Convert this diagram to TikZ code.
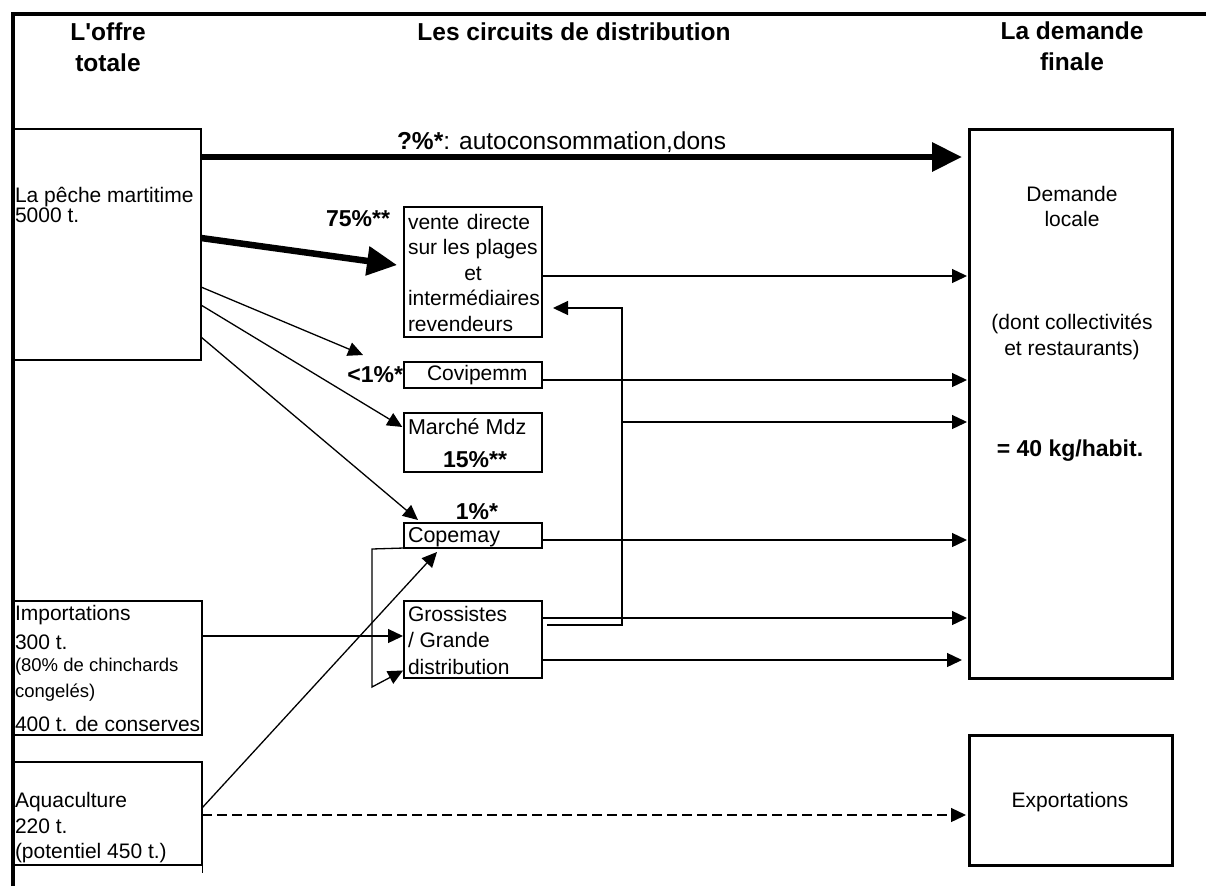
\documentclass[tikz,border=0pt]{standalone}
\usepackage{fontspec}
\setmainfont{Liberation Sans}
\usetikzlibrary{arrows.meta}
\begin{document}
\begin{tikzpicture}[x=1pt,y=-1pt,
  every node/.style={inner sep=0pt, outer sep=0pt},
  lbox/.style={draw, line width=2.2pt, anchor=north west},
  mbox/.style={draw, line width=2.6pt, anchor=north west},
  rbox/.style={draw, line width=3pt, anchor=north west},
  hdr/.style={font=\fontsize{24.5}{31}\selectfont\bfseries, align=center},
  txt/.style={font=\fontsize{21}{25.5}\selectfont, align=left, anchor=west},
  smalltxt/.style={font=\fontsize{18.5}{22}\selectfont, anchor=west},
  ctxt/.style={font=\fontsize{21}{25.5}\selectfont, align=center},
  btxt/.style={font=\fontsize{23}{27}\selectfont\bfseries},
  conn/.style={line width=1.3pt, -{Triangle[length=15pt,width=14pt]}},
  bigarrow/.style={line width=6.5pt, -{Triangle[length=30pt,width=28pt]}}
]
\useasboundingbox (0,0) rectangle (1206,886);
\fill[white] (0,0) rectangle (1206,886);

% frame
\draw[line width=3.5pt] (13,886) -- (13,14) -- (1206,14);

% headers
\node[hdr] (hoffre) at (108,47.5) {L\textquotesingle offre\\totale};
\node[hdr] (hcirc) at (574,32) {Les circuits de distribution};
\node[hdr] (hdem) at (1072,46.5) {La demande\\finale};

% left boxes
\node[lbox, minimum width=188pt, minimum height=231pt] (peche) at (13,129) {};
\node[lbox, minimum width=189pt, minimum height=134pt] (imp) at (13,601) {};
\node[lbox, minimum width=189pt, minimum height=103pt] (aqua) at (13,762) {};
\draw[line width=1pt] (aqua.south east) -- ++(0,8);

% middle boxes
\node[mbox, minimum width=138pt, minimum height=130pt] (vente) at (404,207) {};
\node[mbox, minimum width=138pt, minimum height=26pt] (covi) at (404,362) {};
\node[mbox, minimum width=138pt, minimum height=59pt] (marche) at (404,413) {};
\node[mbox, minimum width=138pt, minimum height=25pt] (cope) at (404,523) {};
\node[mbox, minimum width=138pt, minimum height=77pt] (gross) at (404,601) {};

% right boxes
\node[rbox, minimum width=203pt, minimum height=549pt] (demande) at (969,129) {};
\node[rbox, minimum width=203pt, minimum height=130pt] (export) at (969,735) {};

% texts
\node[txt, font=\fontsize{21}{20.5}\selectfont] (tpeche) at (15,205) {La pêche martitime\\5000 t.};
\node[txt] (timp1) at (15,615) {Importations};
\node[txt] (timp2) at (15,642) {300 t.};
\node[smalltxt] (timp3) at (15,667) {(80\% de chinchards};
\node[smalltxt] (timp4) at (15,693) {congelés)};
\node[txt] (timp5) at (15,724) {400 t. de conserves};
\node[txt] (taqua) at (15,828) {Aquaculture\\220 t.\\(potentiel 450 t.)};

\node[txt] (tvente) at (408,272.5) {\makebox[122pt][s]{vente directe}\\sur les plages\\\makebox[130pt][c]{et}\\intermédiaires\\revendeurs};
\node[txt] (tcovi) at (427,375) {Covipemm};
\node[txt, font=\fontsize{21.5}{25.5}\selectfont] (tmarche) at (408,427) {Marché Mdz};
\node[btxt] (t15) at (475,460) {15\%**};
\node[btxt] (t1) at (477,512) {1\%*};
\node[txt, font=\fontsize{21.5}{25.5}\selectfont] (tcope) at (408,537) {Copemay};
\node[txt, font=\fontsize{21}{26.5}\selectfont] (tgross) at (408,640) {Grossistes\\/ Grande\\distribution};

\node[ctxt, font=\fontsize{21}{25}\selectfont] (tdem1) at (1072,206.5) {Demande\\locale};
\node[ctxt, font=\fontsize{21}{26}\selectfont] (tdem2) at (1072,337) {(dont collectivités\\et restaurants)};
\node[btxt] (tdem3) at (1070,451) {= 40 kg/habit.};
\node[ctxt] (texp) at (1070,802) {Exportations};

\node[btxt] (t75) at (358,219) {75\%**};
\node[btxt, anchor=east] (tlt1) at (403,375) {<1\%*};
\node[txt, font=\fontsize{24.5}{27}\selectfont] (tauto) at (397,142) {{\bfseries ?\%*}: autoconsommation,dons};

% free ends and bends
\coordinate (c1) at (363,355);
\coordinate (c2) at (418,520);
\coordinate (c3) at (437,552);
\coordinate (rb) at (622,625);
\coordinate (rt) at (622,308);
\coordinate (cb1) at (372,549);
\coordinate (cb2) at (372,687);

% connectors
\draw[bigarrow, shorten >=7pt] (peche.east |- 0,157) -- (demande.west |- 0,157);
\draw[bigarrow, shorten >=7pt] (peche.east |- 0,238) -- (vente.west |- 0,266);
\draw[conn] (peche.east |- 0,287) -- (c1);
\draw[conn, shorten >=2pt] (peche.east |- 0,305) -- (marche.west |- 0,428);
\draw[conn] (peche.east |- 0,337) -- (c2);

\draw[conn, shorten >=2pt] (vente.east |- 0,276) -- (demande.west |- 0,276);
\draw[conn, shorten >=2pt] (covi.east |- 0,380) -- (demande.west |- 0,380);
\draw[conn, shorten >=2pt] (rb |- 0,422) -- (demande.west |- 0,422);
\draw[conn, shorten >=2pt] (cope.east |- 0,540) -- (demande.west |- 0,540);
\draw[conn, shorten >=2pt] (gross.east |- 0,618) -- (demande.west |- 0,618);
\draw[conn, shorten >=7pt] (gross.east |- 0,660) -- (demande.west |- 0,660);
\draw[conn, shorten >=11pt] ([xshift=5pt]gross.east |- 0,625) -- (rb) -- (rt) -- (vente.east |- rt);

\draw[conn, shorten >=1pt] (cope.south west) -- (cb1) -- (cb2) -- (gross.west |- 0,670);
\draw[conn, shorten >=1pt] (imp.east |- 0,636) -- (gross.west |- 0,636);
\draw[conn] (aqua.east |- 0,808) -- (c3);
\draw[conn, dashed, dash pattern=on 10pt off 5pt, shorten >=3pt] (aqua.east |- 0,815) -- (export.west |- 0,815);
\end{tikzpicture}
\end{document}
